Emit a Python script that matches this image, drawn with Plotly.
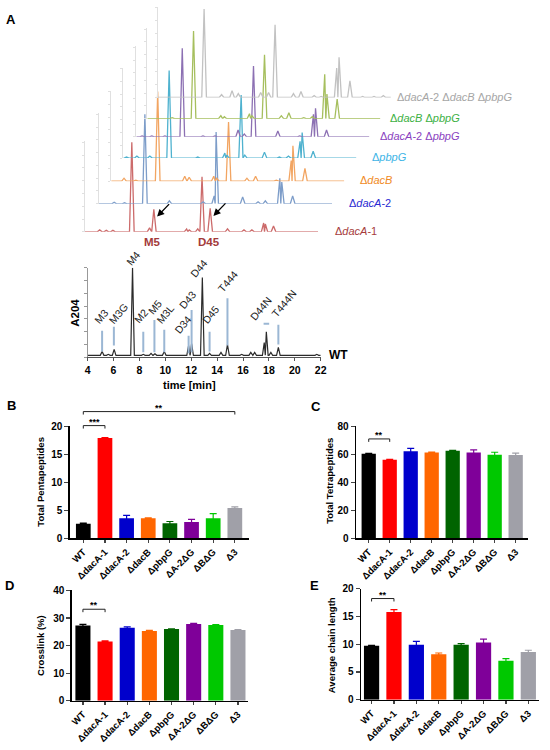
import plotly.graph_objects as go

W, H = 550, 750
FONT = "Liberation Sans, Arial, Helvetica, sans-serif"

# ======================= DATA =======================
# ---- Panel A: stacked chromatograms (retention time [min], peak height [mAU]) ----
stack_names = ["Δ<i>dacA</i>-1", "Δ<i>dacA</i>-2", "Δ<i>dacB</i>", "Δ<i>pbpG</i>",
               "Δ<i>dacA</i>-2 Δ<i>pbpG</i>", "Δ<i>dacB</i> Δ<i>pbpG</i>",
               "Δ<i>dacA</i>-2 Δ<i>dacB</i> Δ<i>pbpG</i>"]

dacA1_t = [5.04, 5.55, 6.06, 7.52, 8.89, 9.22, 11.75, 11.95, 12.61, 12.94, 13.57, 14.91, 16.18, 16.79, 17.70, 17.83, 18.46]
dacA1_h = [2, 1.5, 1.5, 91, 4, 23, 3, 2, 3, 56, 24, 3, 2, 2, 9, 8, 6]

dacA2_t = [5.08, 5.88, 7.45, 9.34, 11.95, 12.80, 12.95, 15.00, 16.19, 16.75, 17.87, 18.02, 18.86]
dacA2_h = [1.5, 1, 91, 3, 2, 8, 73, 7, 2, 3, 26, 22, 8]

dacB_t = [4.89, 5.80, 7.49, 9.58, 9.92, 11.82, 12.05, 12.96, 14.38, 15.05, 16.65, 17.80, 17.93, 18.86]
dacB_h = [3, 1, 91, 5, 4, 5, 3, 60, 3, 5, 1, 21, 36, 13]

pbpG_t = [4.15, 4.95, 5.95, 7.44, 9.65, 11.74, 11.90, 13.00, 13.28, 14.80, 15.95, 16.65, 17.55, 17.71, 18.56]
pbpG_h = [1, 2, 2, 89, 1, 5, 3, 64, 3, 6, 1, 2, 17, 26, 7]

dacA2pbpG_t = [4.35, 5.10, 6.11, 7.45, 9.05, 9.98, 11.76, 12.24, 12.95, 14.83, 16.52, 17.58, 17.74, 18.59]
dacA2pbpG_h = [1, 1, 1, 90, 1, 1, 7, 3, 72, 6, 1, 23, 29, 7]

dacBpbpG_t = [5.82, 7.47, 9.58, 9.85, 11.79, 11.98, 12.95, 14.25, 14.83, 15.98, 16.64, 17.60, 17.77, 18.56]
dacBpbpG_h = [1, 89, 3, 2, 5, 3, 65, 3, 6, 1, 2, 45, 25, 20]

triple_t = [7.48, 8.83, 9.64, 10.12, 11.85, 12.46, 12.96, 14.38, 14.96, 15.98, 16.52, 17.72, 17.90, 18.74, 19.72, 20.60, 21.32]
triple_h = [90, 3, 7, 4, 5, 5, 74, 4, 6, 2, 1, 30, 41, 17, 1, 1, 2]

stack_t = [dacA1_t, dacA2_t, dacB_t, pbpG_t, dacA2pbpG_t, dacBpbpG_t, triple_t]
stack_h = [dacA1_h, dacA2_h, dacB_h, pbpG_h, dacA2pbpG_h, dacBpbpG_h, triple_h]

# arrows / labels on the ΔdacA-1 trace (time, height)
arrow_t = [9.47, 13.82]
arrow_h = [15.5, 16.2]
peak_lab_names = ["M5", "D45"]
peak_lab_t = [9.15, 13.48]

# ---- Panel A: WT chromatogram ----
wt_t = [5.12, 5.60, 6.05, 7.47, 8.30, 8.90, 9.20, 9.92, 11.80, 12.03, 12.86, 13.42, 14.30, 14.80, 15.90,
        16.60, 16.90, 17.64, 17.80, 18.15, 18.73, 21.70]
wt_h = [4, 1, 6, 89, 1, 2, 1.5, 4, 10, 12, 79, 2, 3, 11, 1, 3, 3, 13, 24, 3, 8, 1]

wt_lab_names = ["M3", "M3G", "M4", "M2", "M5", "M3L", "D34", "D43", "D44", "D45", "T444", "D44N", "T444N"]
wt_lab_t = [4.76, 5.88, 7.21, 7.80, 8.85, 9.52, 10.89, 11.27, 12.10, 13.04, 14.30, 16.76, 18.43]
wt_lab_y = [29, 29, 88, 29, 39, 29, 19, 44, 76, 29, 61, 33, 36]

wt_mark_t = [5.12, 6.03, 8.30, 9.16, 9.92, 11.80, 12.03, 13.42, 14.80, 18.73]
wt_mark_lo = [4, 10, 3, 3, 3, 2, 3, 4, 10, 11]
wt_mark_hi = [25, 29, 24, 36, 26, 20, 46, 24, 58, 31]
d44n_bar_t = [17.59, 18.02]
d44n_bar_y = [32, 32]

wt_ticks = [4, 6, 8, 10, 12, 14, 16, 18, 20, 22]

# ---- Panels B-E: bar charts ----
strains = ["WT", "ΔdacA-1", "ΔdacA-2", "ΔdacB", "ΔpbpG", "ΔA-2ΔG", "ΔBΔG", "Δ3"]

penta = [2.6, 17.9, 3.6, 3.6, 2.7, 2.9, 3.6, 5.4]
penta_err = [0.1, 0.05, 0.5, 0.05, 0.3, 0.5, 0.8, 0.2]
tetra = [60.3, 56.1, 62.2, 61.2, 62.4, 61.3, 59.6, 59.4]
tetra_err = [0.3, 0.2, 2.0, 0.3, 0.4, 1.8, 1.8, 1.4]
cross = [27.3, 21.5, 26.5, 25.3, 26.0, 27.8, 27.5, 25.7]
cross_err = [0.4, 0.2, 0.3, 0.2, 0.1, 0.3, 0.1, 0.1]
chain = [9.7, 15.8, 9.9, 8.2, 9.9, 10.3, 7.0, 8.6]
chain_err = [0.1, 0.4, 0.6, 0.2, 0.2, 0.6, 0.4, 0.3]

# significance brackets: (from strain idx, to strain idx, stars, level)
sig_B = [(0, 1, "***", 20.1), (0, 7, "**", 22.6)]
sig_C = [(0, 1, "**", 70.9)]
sig_D = [(0, 1, "**", 33.2)]
sig_E = [(0, 1, "**", 18.2)]

# ======================= STYLE / GEOMETRY =======================
stack_line_colors = ["#cc6b6b", "#7d9dc9", "#f2a562", "#4fb2cf", "#8c70b3", "#a6bf5e", "#c2c2c2"]
stack_label_colors = ["#a63c3c", "#2a2ad2", "#f08a24", "#3db4e6", "#8a3fc0", "#3cb043", "#a6a6a6"]
stack_x0 = [83.3, 97.5, 110.0, 122.3, 135.5, 146.7, 157.3]
stack_base = [229.5, 201.0, 178.0, 154.5, 133.0, 114.5, 93.0]
stack_label_x = [335.7, 350.0, 361.0, 372.7, 381.7, 391.7, 399.0]
STACK_W, STACK_H = 237.0, 92.0
STACK_RANGE = [3.9, 21.9]

bar_colors = ["#000000", "#ff0000", "#0000cc", "#ff6600", "#006400", "#7f0099", "#00c800", "#a0a0a8"]

panels = [  # (values, errors, sig, yrange, dtick, xpx, ypx, xrange, title, title pos, letter, letter pos)
    (penta, penta_err, sig_B, [0, 20], 5, (68, 250), (427, 541), [-0.62, 7.65],
     "Total Pentapeptides", (38, 483), "B", (9, 406)),
    (tetra, tetra_err, sig_C, [0, 80], 20, (359, 534), (427, 541), [-0.6, 7.6],
     "Total Tetrapeptides", (332, 483), "C", (318, 407)),
    (cross, cross_err, sig_D, [0, 40], 10, (70, 249), (594, 706), [-0.5, 7.45],
     "Crosslink (%)", (38, 650), "D", (7, 589)),
    (chain, chain_err, sig_E, [0, 20], 5, (364, 545), (592, 705), [-0.47, 7.48],
     "Average chain length", (334, 650), "E", (317, 589)),
]


def dom_x(a, b):
    return [a / W, b / W]


def dom_y(top, bottom):
    return [max(0.0, 1 - bottom / H), min(1.0, 1 - top / H)]


def chrom_line(times, heights, t0, t1, w):
    xs, ys = [t0], [0.0]
    n = len(times)
    for i, (t, h) in enumerate(zip(times, heights)):
        left = t - w if i == 0 else max(t - w, (times[i - 1] + t) / 2)
        right = t + w if i == n - 1 else min(t + w, (t + times[i + 1]) / 2)
        xs += [left, t, right]
        ys += [0.0, h, 0.0]
    xs.append(t1)
    ys.append(0.0)
    return xs, ys


def font(size, bold=False, color="black"):
    return dict(family=FONT, size=size, color=color, weight="bold" if bold else "normal")


def paper_ann(text, x, y, size, bold=True, color="black", angle=0, xanchor="center", yanchor="middle"):
    return dict(text=text, x=x / W, y=1 - y / H, xref="paper", yref="paper", showarrow=False,
                font=font(size, bold, color), textangle=angle, xanchor=xanchor, yanchor=yanchor)


fig = go.Figure()
layout = dict(width=W, height=H, margin=dict(l=0, r=0, t=0, b=0), showlegend=False,
              paper_bgcolor="white", plot_bgcolor="rgba(0,0,0,0)", barmode="overlay")
annotations = []

# ---------- stacked chromatograms ----------
for i in range(7):
    n = i + 1
    xs, ys = chrom_line(stack_t[i], stack_h[i], STACK_RANGE[0], STACK_RANGE[1], 0.18)
    fig.add_trace(go.Scatter(x=xs, y=ys, mode="lines", xaxis=f"x{n}", yaxis=f"y{n}",
                             line=dict(color=stack_line_colors[i], width=1.3), hoverinfo="skip"))
    layout[f"xaxis{n}"] = dict(domain=dom_x(stack_x0[i], stack_x0[i] + STACK_W), range=STACK_RANGE,
                               visible=False, anchor=f"y{n}")
    layout[f"yaxis{n}"] = dict(domain=dom_y(stack_base[i] - STACK_H, stack_base[i]), range=[0, STACK_H],
                               anchor=f"x{n}", showline=True, linecolor="#e0e0e0", linewidth=1,
                               ticks="outside", ticklen=2, tickcolor="#e0e0e0", dtick=13,
                               showticklabels=False, showgrid=False, zeroline=False)
    annotations.append(paper_ann(stack_names[i], stack_label_x[i], stack_base[i] - 1, 11, bold=False,
                                 color=stack_label_colors[i], xanchor="left"))

# arrows and M5/D45 labels on ΔdacA-1
for t, h in zip(arrow_t, arrow_h):
    annotations.append(dict(x=t, y=h, xref="x1", yref="y1", text="", showarrow=True, arrowhead=2,
                            arrowsize=1.1, arrowwidth=1.3, arrowcolor="black", ax=13.5, ay=-14))
for name, t in zip(peak_lab_names, peak_lab_t):
    annotations.append(dict(x=t, y=0, xref="x1", yref="y1", text=name, showarrow=False,
                            font=font(11.5, True, "#a33a3a"), xanchor="center", yanchor="top", yshift=-2))

# ---------- WT chromatogram ----------
xs, ys = chrom_line(wt_t, wt_h, wt_ticks[0], wt_ticks[-1], 0.14)
fig.add_trace(go.Scatter(x=xs, y=ys, mode="lines", xaxis="x8", yaxis="y8",
                         line=dict(color="#2b2b2b", width=1.2), hoverinfo="skip"))
for t, lo, hi in zip(wt_mark_t, wt_mark_lo, wt_mark_hi):
    fig.add_trace(go.Scatter(x=[t, t], y=[lo, hi], mode="lines", xaxis="x8", yaxis="y8",
                             line=dict(color="#9bb7d4", width=2), hoverinfo="skip"))
fig.add_trace(go.Scatter(x=d44n_bar_t, y=d44n_bar_y, mode="lines", xaxis="x8", yaxis="y8",
                         line=dict(color="#9bb7d4", width=2), hoverinfo="skip"))
for name, t, y in zip(wt_lab_names, wt_lab_t, wt_lab_y):
    annotations.append(dict(x=t, y=y, xref="x8", yref="y8", text=name, showarrow=False,
                            font=font(10.5, False, "#1a1a1a"), textangle=-50,
                            xanchor="left", yanchor="bottom", xshift=-8, yshift=-2))
layout["xaxis8"] = dict(domain=dom_x(86, 323), range=[wt_ticks[0], wt_ticks[-1]], tickvals=wt_ticks,
                        anchor="y8", showline=True, linecolor="#555", linewidth=1, ticks="outside",
                        ticklen=3, tickcolor="#555", tickfont=font(10.5, True), showgrid=False, zeroline=False)
layout["yaxis8"] = dict(domain=dom_y(266, 357), range=[-2, 89], anchor="x8", showline=True,
                        linecolor="#999", linewidth=1, ticks="outside", ticklen=3, tickcolor="#999",
                        dtick=13, tick0=-2, showticklabels=False, showgrid=False, zeroline=False)
annotations += [
    paper_ann("A", 8, 14, 13),
    paper_ann("A204", 73, 312, 11.5, angle=-90),
    paper_ann("time [min]", 190, 385, 11),
    paper_ann("WT", 341, 355, 12),
]

# ---------- bar panels ----------
for k, (vals, errs, sigs, yr, dt, xpx, ypx, xr, title, tpos, letter, lpos) in enumerate(panels):
    xa, ya = 9 + k, 9 + k
    ob = 13 + k  # overlay axes for significance brackets
    for j, s in enumerate(strains):
        fig.add_trace(go.Bar(x=[s], y=[vals[j]], xaxis=f"x{xa}", yaxis=f"y{ya}", width=0.68,
                             marker=dict(color=bar_colors[j], line=dict(width=0)),
                             error_y=dict(type="data", array=[errs[j]], color=bar_colors[j],
                                          thickness=1.2, width=3.5), hoverinfo="skip"))
    cat_ax = dict(type="category", categoryorder="array", categoryarray=strains)
    layout[f"xaxis{xa}"] = dict(domain=dom_x(*xpx), range=xr, anchor=f"y{ya}", tickangle=-45,
                                ticks="outside", ticklen=3, tickwidth=1.2, showline=True, linecolor="black",
                                linewidth=1.5, tickfont=font(9.5, True), showgrid=False, zeroline=False,
                                **cat_ax)
    layout[f"yaxis{ya}"] = dict(domain=dom_y(*ypx), range=yr, dtick=dt, anchor=f"x{xa}", ticks="outside",
                                ticklen=4, tickwidth=1.2, showline=True, linecolor="black", linewidth=1.5,
                                tickfont=font(10, True), showgrid=False, zeroline=False)
    # overlay axes with the same data scale, extended upward for the brackets
    extra = 40.0
    px_h = ypx[1] - ypx[0]
    layout[f"xaxis{ob}"] = dict(domain=dom_x(*xpx), matches=f"x{xa}", visible=False, anchor=f"y{ob}",
                                **cat_ax)
    layout[f"yaxis{ob}"] = dict(domain=dom_y(ypx[0] - extra, ypx[1]),
                                range=[yr[0], yr[1] * (px_h + extra) / px_h],
                                visible=False, anchor=f"x{ob}")
    tick = 3.0 * (yr[1] - yr[0]) / px_h
    for (i0, i1, stars, lvl) in sigs:
        fig.add_trace(go.Scatter(x=[strains[i0], strains[i0], strains[i1], strains[i1]],
                                 y=[lvl - tick, lvl, lvl, lvl - tick], mode="lines",
                                 xaxis=f"x{ob}", yaxis=f"y{ob}", line=dict(color="#222", width=1),
                                 hoverinfo="skip"))
        annotations.append(dict(x=(i0 + i1) / 2, y=lvl, xref=f"x{ob}", yref=f"y{ob}", text=stars,
                                showarrow=False, font=font(9, True), xanchor="center", yanchor="bottom",
                                yshift=-3))
    annotations.append(paper_ann(title, tpos[0], tpos[1], 9.5, angle=-90))
    annotations.append(paper_ann(letter, lpos[0], lpos[1], 13))

layout["annotations"] = annotations
fig.update_layout(**layout)
fig.write_html("out.html", config={"displayModeBar": False, "staticPlot": True},
               post_script="document.body.style.margin='0';document.body.style.overflow='hidden';")
